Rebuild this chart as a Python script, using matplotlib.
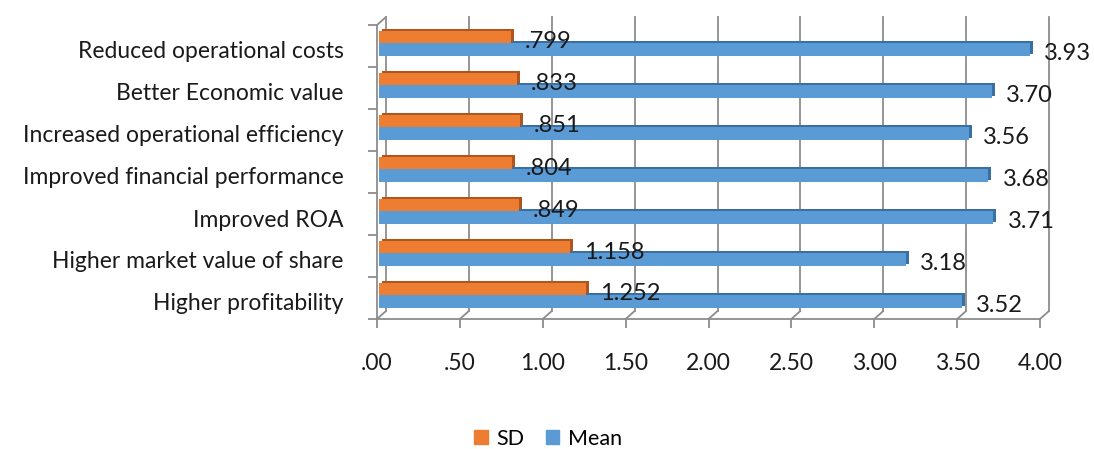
import matplotlib.pyplot as plt
from matplotlib.transforms import ScaledTranslation
from matplotlib.patches import ConnectionPatch, Patch

plt.rcParams['font.family'] = ['Lato', 'DejaVu Sans']

categories = ['Higher profitability', 'Higher market value of share', 'Improved ROA',
              'Improved financial performance', 'Increased operational efficiency',
              'Better Economic value', 'Reduced operational costs']
sd = [1.252, 1.158, 0.849, 0.804, 0.851, 0.833, 0.799]
mean = [3.52, 3.18, 3.71, 3.68, 3.56, 3.70, 3.93]
xticks = [0, 0.5, 1.0, 1.5, 2.0, 2.5, 3.0, 3.5, 4.0]

ORANGE = '#ED7D31'
ORANGE_DARK = '#B0561C'
BLUE = '#5B9BD5'
BLUE_DARK = '#3A6FA3'
GRID = '#8C8C8C'
TEXT = '#1a1a1a'

fig = plt.figure(figsize=(10.94, 4.49), dpi=100)
ax = fig.add_axes([377 / 1094, 1 - 319 / 449, 663 / 1094, 294 / 449])
ax.set_xlim(0, 4)
ax.set_ylim(-0.5, len(categories) - 0.5)

def px(dx, dy):
    return ScaledTranslation(dx / 100, dy / 100, fig.dpi_scale_trans)

# back wall sits up and to the right of the front plane
back = ax.transData + px(9, 8)
ytop = len(categories) - 0.5
for v in xticks:
    ax.plot([v, v], [-0.5, ytop], color=GRID, lw=1.3, transform=back, clip_on=False, zorder=1)
    ax.add_artist(ConnectionPatch((v, -0.5), (v, -0.5), coordsA=ax.transData, coordsB=back,
                                  color=GRID, lw=1.3, zorder=1))
ax.add_artist(ConnectionPatch((0, ytop), (0, ytop), coordsA=ax.transData, coordsB=back,
                              color=GRID, lw=1.3, zorder=1))

# bars with a small darker depth face behind them
bar_t = ax.transData + px(1.5, 2.7)
depth_t = bar_t + px(3, 2)
y = list(range(len(categories)))
y_sd = [i + 0.15 for i in y]
y_mean = [i - 0.15 for i in y]
h = 0.3
ax.barh(y_sd, sd, height=h, color=ORANGE_DARK, transform=depth_t, zorder=2)
ax.barh(y_mean, mean, height=h, color=BLUE_DARK, transform=depth_t, zorder=2)
ax.barh(y_sd, sd, height=h, color=ORANGE, transform=bar_t, zorder=3)
ax.barh(y_mean, mean, height=h, color=BLUE, transform=bar_t, zorder=3)

for yy, v in zip(y_sd, sd):
    ax.annotate(f'{v:.3f}'.lstrip('0'), (v, yy), xycoords=bar_t, xytext=(14, -5),
                textcoords='offset pixels', ha='left', va='center', fontsize=17,
                color=TEXT, zorder=5, annotation_clip=False)
for yy, v in zip(y_mean, mean):
    ax.annotate(f'{v:.2f}', (v, yy), xycoords=bar_t, xytext=(14, -4),
                textcoords='offset pixels', ha='left', va='center', fontsize=17,
                color=TEXT, zorder=5, annotation_clip=False)

# axes: front edges, ticks and labels
for s in ['top', 'right']:
    ax.spines[s].set_visible(False)
for s in ['left', 'bottom']:
    ax.spines[s].set_color(GRID)
    ax.spines[s].set_linewidth(1.3)

ax.set_xticks(xticks)
ax.set_xticklabels([f'{v:.2f}'.lstrip('0') if v < 1 else f'{v:.2f}' for v in xticks])
ax.tick_params(axis='x', length=6.5, width=1.3, color=GRID, pad=18, labelsize=16.5,
               labelcolor=TEXT)
ax.set_yticks(y)
ax.set_yticklabels(categories)
ax.set_yticks([i - 0.5 for i in range(len(categories) + 1)], minor=True)
ax.tick_params(axis='y', which='major', length=0, pad=24, labelsize=16.5, labelcolor=TEXT)
ax.tick_params(axis='y', which='minor', length=6.5, width=1.3, color=GRID)
for lab in ax.get_yticklabels():
    lab.set_transform(lab.get_transform() + px(0, -4))
ax.set_facecolor('none')

handles = [Patch(color=ORANGE, label='SD'), Patch(color=BLUE, label='Mean')]
fig.legend(handles=handles, loc='center', bbox_to_anchor=(0.501, 1 - 439 / 449), ncol=2,
           frameon=False, fontsize=15.5, handlelength=0.62, handleheight=0.62,
           handletextpad=0.4, columnspacing=1.0)

fig.savefig('out.png', dpi=100)
